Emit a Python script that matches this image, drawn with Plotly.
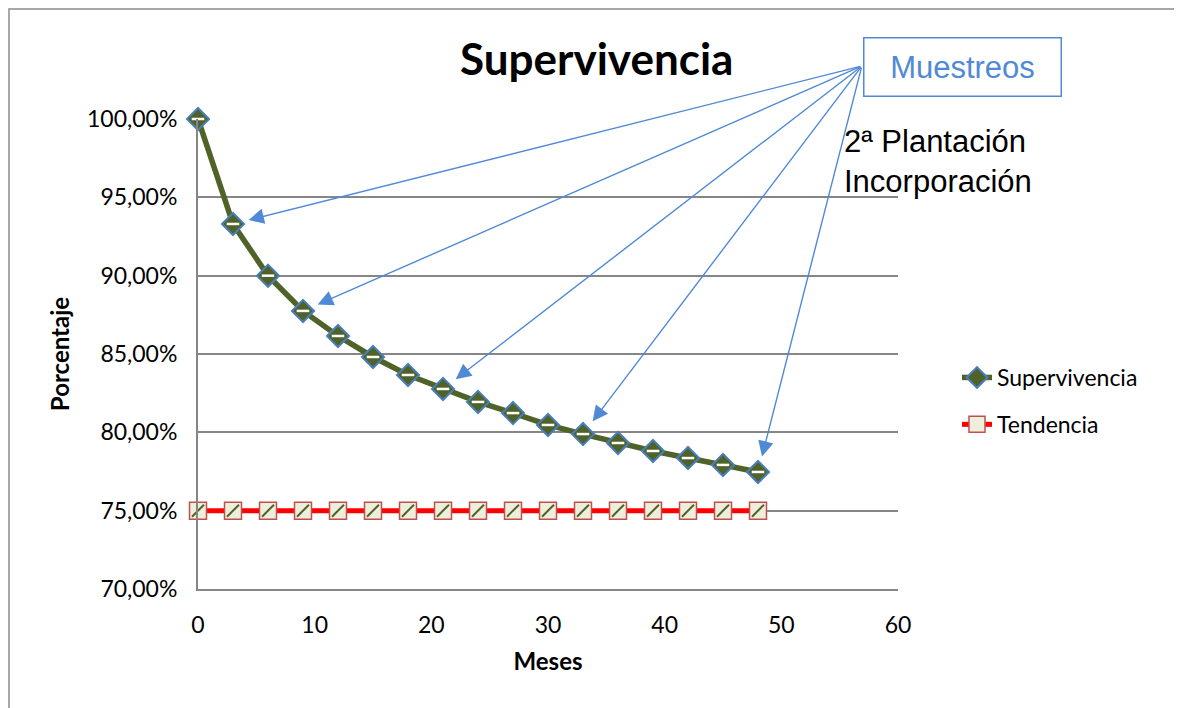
import plotly.graph_objects as go

meses = [0, 3, 6, 9, 12, 15, 18, 21, 24, 27, 30, 33, 36, 39, 42, 45, 48]
supervivencia = [100.00, 93.30, 90.00, 87.75, 86.15, 84.81, 83.66, 82.77, 81.94,
                 81.23, 80.47, 79.89, 79.32, 78.81, 78.36, 77.92, 77.47]
tendencia = [75.00] * len(meses)
muestreo_idx = [1, 3, 7, 11, 16]
y_ticks = [70, 75, 80, 85, 90, 95, 100]
y_ticktext = ["70,00%", "75,00%", "80,00%", "85,00%", "90,00%", "95,00%", "100,00%"]
x_ticks = [0, 10, 20, 30, 40, 50, 60]

OLIVE = "#4f6228"
BLUE = "#4a7ebb"
ARROW = "#5089d6"
CAL = "Lato, Carlito, Calibri, sans-serif"

fig = go.Figure()

# Tendencia
fig.add_trace(go.Scatter(
    x=meses, y=tendencia, name="Tendencia", mode="lines+markers", cliponaxis=False,
    line=dict(color="#ff0000", width=5),
    marker=dict(symbol="square", size=17, color="#eeeedd",
                line=dict(color="#c0504d", width=1.5)),
    legendgroup="t", legendrank=2))
fig.add_trace(go.Scatter(
    x=meses, y=tendencia, mode="markers", showlegend=False, hoverinfo="skip", cliponaxis=False,
    marker=dict(symbol="line-ne", size=12, line=dict(color=OLIVE, width=2))))

# Supervivencia
fig.add_trace(go.Scatter(
    x=meses, y=supervivencia, name="Supervivencia", mode="lines+markers", cliponaxis=False,
    line=dict(color=OLIVE, width=5.5),
    marker=dict(symbol="diamond", size=17, color=OLIVE,
                line=dict(color=BLUE, width=2)),
    legendgroup="s", legendrank=1))
fig.add_trace(go.Scatter(
    x=meses, y=supervivencia, mode="markers", showlegend=False, hoverinfo="skip", cliponaxis=False,
    marker=dict(symbol="line-ew", size=9, line=dict(color="white", width=2.5))))

annotations = []
tail_x, tail_y = 56.9, 103.38
for i in muestreo_idx:
    annotations.append(dict(
        x=meses[i], y=supervivencia[i], xref="x", yref="y",
        ax=tail_x, ay=tail_y, axref="x", ayref="y",
        text="", showarrow=True, arrowhead=2, arrowsize=2.2, arrowwidth=1.4,
        arrowcolor=ARROW, standoff=16))

annotations.append(dict(
    x=(962 - 198) / 700, y=(589 - 67) / 470, xref="paper", yref="paper",
    text="Muestreos", showarrow=False, xanchor="center", yanchor="middle",
    font=dict(family="Liberation Sans, Arial", size=31, color=ARROW),
    bordercolor=ARROW, borderwidth=1.5, bgcolor="white",
    width=194, height=55))
annotations.append(dict(
    x=(842 - 198) / 700, y=(589 - 161) / 470, xref="paper", yref="paper",
    text="2ª Plantación<br>Incorporación", showarrow=False,
    xanchor="left", yanchor="middle", align="left",
    font=dict(family="Liberation Sans, Arial", size=31, color="black")))
annotations.append(dict(
    x=(596 - 198) / 700, y=(589 - 58) / 470, xref="paper", yref="paper",
    text="<b>Supervivencia</b>", showarrow=False, xanchor="center", yanchor="middle",
    font=dict(family=CAL, size=44, color="black")))

# page body has an 8px margin; plot area placed at screen x 198..898, y 119..589
fig.update_layout(
    width=1182, height=708,
    margin=dict(l=190, r=292, t=111, b=127),
    paper_bgcolor="white", plot_bgcolor="white",
    showlegend=True,
    legend=dict(x=(957 - 198) / 700, y=(589 - 356) / 470, xanchor="left", yanchor="top",
                font=dict(family=CAL, size=23, color="black"),
                tracegroupgap=14, bgcolor="rgba(0,0,0,0)"),
    annotations=annotations,
    shapes=[dict(type="rect", xref="paper", yref="paper",
                 x0=(1 - 190) / 700, x1=1.6, y0=-0.4, y1=(581 - 1) / 470,
                 line=dict(color="#8c8c8c", width=1.5), layer="below")],
)

fig.update_xaxes(
    range=[0, 60], tickvals=x_ticks, showgrid=False, zeroline=False,
    showline=True, linecolor="#868686", linewidth=2,
    ticks="", ticklabelstandoff=14,
    tickfont=dict(family=CAL, size=23, color="black"),
    title=dict(text="<b>Meses</b>", font=dict(family=CAL, size=24, color="black"), standoff=17))
fig.update_yaxes(
    range=[70, 100], tickvals=y_ticks, ticktext=y_ticktext,
    showgrid=True, gridcolor="#868686", gridwidth=2, zeroline=False,
    showline=True, linecolor="#868686", linewidth=2,
    ticks="", ticklabelstandoff=14,
    tickfont=dict(family=CAL, size=23, color="black"),
    title=dict(text="<b>Porcentaje</b>", font=dict(family=CAL, size=24, color="black"), standoff=11))

fig.write_html("out.html")
